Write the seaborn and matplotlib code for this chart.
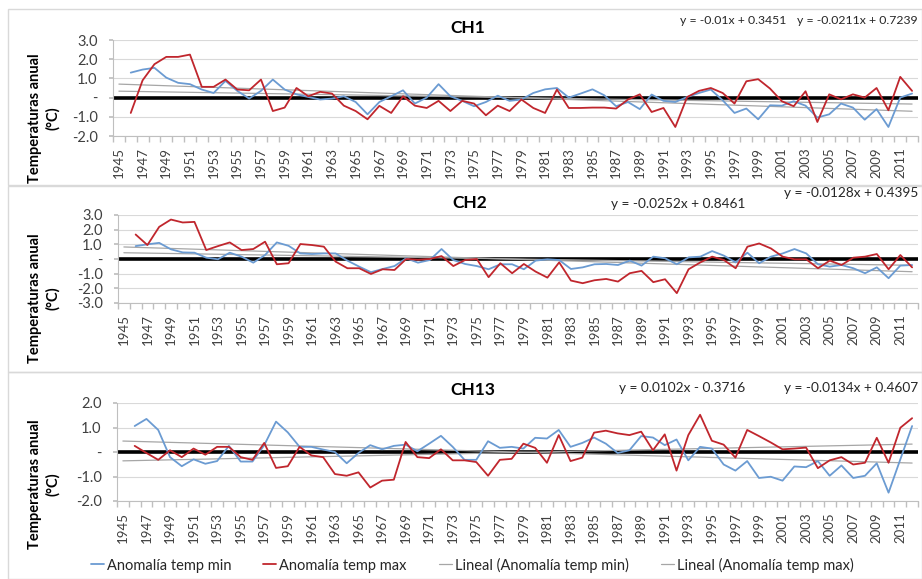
import numpy as np
import pandas as pd
import matplotlib
matplotlib.use("Agg")
import matplotlib.pyplot as plt
import seaborn as sns
from matplotlib.lines import Line2D
from matplotlib.patches import Rectangle
from matplotlib.ticker import FuncFormatter

# years on the category axis (1945 has no data)
years = list(range(1945, 2013))
nan = np.nan

ch1_min = [nan, 1.30, 1.46, 1.55, 1.04, 0.77, 0.70, 0.42, 0.24, 0.87, 0.35,
           -0.05, 0.35, 0.94, 0.42, 0.17, 0.03, -0.10, -0.05, 0.07, -0.23,
           -0.87, -0.23, 0.07, 0.38, -0.31, 0.00, 0.70, 0.07, -0.17, -0.45,
           -0.23, 0.10, -0.17, -0.10, 0.24, 0.43, 0.50, 0.00, 0.21, 0.43,
           0.12, -0.45, -0.23, -0.60, 0.16, -0.17, -0.23, 0.03, 0.24, 0.42,
           -0.14, -0.80, -0.57, -1.13, -0.40, -0.42, -0.19, -0.42, -1.04, -0.87,
           -0.31, -0.52, -1.15, -0.60, -1.53, 0.00, 0.21]
ch1_max = [nan, -0.80, 0.90, 1.74, 2.12, 2.12, 2.24, 0.56, 0.56, 0.94, 0.42,
           0.38, 0.94, -0.70, -0.52, 0.50, 0.07, 0.30, 0.21, -0.42, -0.70,
           -1.13, -0.43, -0.80, 0.07, -0.42, -0.54, -0.17, -0.70, -0.17, -0.31,
           -0.92, -0.42, -0.70, -0.10, -0.54, -0.80, 0.42, -0.54, -0.54, -0.52,
           -0.52, -0.57, -0.10, 0.17, -0.75, -0.54, -1.53, 0.03, 0.35, 0.50,
           0.24, -0.31, 0.85, 0.96, 0.47, -0.19, -0.45, 0.33, -1.27, 0.17,
           -0.09, 0.17, 0.00, 0.50, -0.66, 1.08, 0.35]

ch2_min = [nan, 0.88, 1.00, 1.10, 0.66, 0.45, 0.43, 0.09, -0.02, 0.43, 0.16,
           -0.25, 0.27, 1.13, 0.90, 0.38, 0.34, 0.38, 0.38, -0.11, -0.52,
           -0.90, -0.68, -0.48, 0.05, -0.25, -0.07, 0.68, -0.07, -0.34, -0.48,
           -0.70, -0.36, -0.36, -0.70, -0.11, -0.02, -0.07, -0.68, -0.57, -0.36,
           -0.34, -0.41, -0.11, -0.45, 0.16, 0.05, -0.36, 0.11, 0.16, 0.54,
           0.23, -0.23, 0.43, -0.29, 0.16, 0.38, 0.68, 0.38, -0.36, -0.52,
           -0.41, -0.63, -0.97, -0.57, -1.31, -0.45, -0.41]
ch2_max = [nan, 1.67, 0.95, 2.19, 2.69, 2.49, 2.53, 0.61, 0.88, 1.13, 0.61,
           0.68, 1.18, -0.36, -0.29, 1.02, 0.95, 0.84, -0.18, -0.63, -0.63,
           -1.02, -0.70, -0.75, 0.00, -0.05, 0.00, 0.20, -0.48, -0.07, 0.00,
           -1.24, -0.29, -0.97, -0.34, -0.86, -1.27, -0.23, -1.47, -1.65, -1.45,
           -1.36, -1.54, -0.97, -0.81, -1.58, -1.38, -2.33, -0.70, -0.23, 0.16,
           -0.07, -0.63, 0.84, 1.06, 0.72, 0.16, -0.02, -0.02, -0.63, -0.11,
           -0.41, 0.09, 0.16, 0.34, -0.70, 0.27, -0.57]

ch13_min = [nan, 1.06, 1.35, 0.90, -0.21, -0.58, -0.30, -0.48, -0.37, 0.25, -0.39,
            -0.39, 0.28, 1.24, 0.80, 0.21, 0.21, 0.10, 0.00, -0.46, -0.04,
            0.28, 0.11, 0.25, 0.30, 0.03, 0.34, 0.66, 0.21, -0.32, -0.32,
            0.44, 0.17, 0.21, 0.14, 0.58, 0.55, 0.90, 0.21, 0.37, 0.59,
            0.34, -0.04, 0.07, 0.65, 0.59, 0.28, 0.51, -0.34, 0.21, 0.14,
            -0.51, -0.76, -0.37, -1.06, -1.01, -1.17, -0.59, -0.62, -0.37, -0.97,
            -0.55, -1.06, -0.97, -0.46, -1.66, -0.30, 1.06]
ch13_max = [nan, 0.25, -0.04, -0.32, 0.07, -0.21, 0.14, -0.11, 0.21, 0.21, -0.21,
            -0.32, 0.37, -0.65, -0.58, 0.21, -0.14, -0.21, -0.90, -0.97, -0.83,
            -1.45, -1.17, -1.13, 0.41, -0.21, -0.25, 0.11, -0.34, -0.34, -0.41,
            -0.97, -0.32, -0.28, 0.34, 0.17, -0.44, 0.69, -0.37, -0.23, 0.79,
            0.87, 0.76, 0.69, 0.83, 0.07, 0.72, -0.76, 0.69, 1.52, 0.46,
            0.30, -0.23, 0.90, 0.65, 0.39, 0.11, 0.14, 0.18, -0.66, -0.34,
            -0.21, -0.51, -0.44, 0.58, -0.44, 0.99, 1.38]

# trend line coefficients as printed on the chart (x = 1 at 1945)
trend_min = [(-0.01, 0.3451), (-0.0128, 0.4395), (0.0102, -0.3716)]
trend_max = [(-0.0211, 0.7239), (-0.0252, 0.8461), (-0.0134, 0.4607)]
eq_left = ["y = -0.01x + 0.3451", "y = -0.0252x + 0.8461", "y = 0.0102x - 0.3716"]
eq_right = ["y = -0.0211x + 0.7239", "y = -0.0128x + 0.4395", "y = -0.0134x + 0.4607"]

titles = ["CH1", "CH2", "CH13"]
y_ranges = [(-2, 3), (-3, 3), (-2, 2)]
series_min = [ch1_min, ch2_min, ch13_min]
series_max = [ch1_max, ch2_max, ch13_max]

BLUE = "#6b9bd2"
RED = "#c0262d"
GREY = "#a6a6a6"

sns.set_theme(style="white")
plt.rcParams["font.family"] = ["Lato", "DejaVu Sans"]

W, H = 922, 579
fig = plt.figure(figsize=(W / 100, H / 100), dpi=100)


def fx(x):
    return x / W


def fy(y):
    return 1 - y / H


# plot-area boxes in pixels: left, right, top, bottom
areas = [(113, 918, 40, 136), (118, 918, 215, 303), (117, 918, 403, 501)]
# chart frames: top, bottom
frames = [(9, 185), (186, 372), (372, 579)]
title_pos = [(468, 28), (470, 203), (473, 390)]
eq_pos = [((786, 20), (918, 20)), ((745, 204), (918, 193)), ((745, 388), (918, 388))]
eq_size = [8.8, 9.8, 9.8]
ylab_y = [118, 298, 484]

idx = np.arange(len(years))
xs = idx + 1

for i in range(3):
    l, r, t, b = areas[i]
    ax = fig.add_axes([fx(l), fy(b), fx(r) - fx(l), fy(t) - fy(b)])

    df = pd.DataFrame({
        "idx": np.concatenate([idx, idx]),
        "valor": np.concatenate([series_min[i], series_max[i]]),
        "serie": ["min"] * len(idx) + ["max"] * len(idx),
    }).dropna()

    ax.axhline(0, color="black", lw=2.6, zorder=1)
    for slope, inter in (trend_min[i], trend_max[i]):
        ax.plot(idx, np.polyval([slope, inter], xs), color=GREY, lw=0.9, zorder=2)
    sns.lineplot(data=df, x="idx", y="valor", hue="serie",
                 palette={"min": BLUE, "max": RED}, estimator=None,
                 lw=1.3, legend=False, ax=ax, zorder=3)

    lo, hi = y_ranges[i]
    ax.set_ylim(lo, hi)
    ax.set_xlim(-0.5, len(years) - 0.5)
    ax.set_yticks(np.arange(lo, hi + 1, 1))
    ax.yaxis.set_major_formatter(FuncFormatter(lambda v, p: "-" if abs(v) < 1e-9 else f"{v:.1f}"))
    ax.set_xticks(idx[::2])
    ax.set_xticklabels([str(y) for y in years[::2]], rotation=90)
    ax.set_xticks(np.arange(-0.5, len(years), 1), minor=True)
    ax.tick_params(axis="x", which="major", length=0, pad=8, labelsize=9.5, colors="#404040")
    ax.tick_params(axis="x", which="minor", length=4, color="#bfbfbf", direction="out", bottom=True)
    ax.tick_params(axis="y", length=3, color="#bfbfbf", left=True, pad=8, labelsize=10.5, colors="#404040")
    ax.grid(axis="y", color="#d9d9d9", lw=0.8)
    ax.set_axisbelow(True)
    for side in ("top", "right"):
        ax.spines[side].set_visible(False)
    for side in ("left", "bottom"):
        ax.spines[side].set_color("#bfbfbf")
        ax.spines[side].set_linewidth(0.8)
    ax.set_xlabel("")
    ax.set_ylabel("")

    ft, fb = frames[i]
    fig.add_artist(Rectangle((fx(8), fy(fb)), fx(W) - fx(8), fy(ft) - fy(fb),
                             transform=fig.transFigure, fill=False,
                             edgecolor="#d9d9d9", lw=1))

    tx, ty = title_pos[i]
    fig.text(fx(tx), fy(ty), titles[i], ha="center", va="center",
             fontsize=12.5, fontweight="bold", color="black")
    (ex1, ey1), (ex2, ey2) = eq_pos[i]
    fig.text(fx(ex1), fy(ey1), eq_left[i], ha="right", va="center", fontsize=eq_size[i], color="#262626")
    fig.text(fx(ex2), fy(ey2), eq_right[i], ha="right", va="center", fontsize=eq_size[i], color="#262626")
    fig.text(fx(44), fy(ylab_y[i]), "Temperaturas anual\n(°C)", rotation=90,
             ha="center", va="center", fontsize=10.5, fontweight="bold",
             linespacing=1.3, color="black")

handles = [Line2D([], [], color=BLUE, lw=1.3), Line2D([], [], color=RED, lw=1.3),
           Line2D([], [], color=GREY, lw=0.9), Line2D([], [], color=GREY, lw=0.9)]
labels = ["Anomalía temp min", "Anomalía temp max",
          "Lineal (Anomalía temp min)", "Lineal (Anomalía temp max)"]
fig.legend(handles, labels, loc="center", bbox_to_anchor=(fx(472), fy(565)),
           ncol=4, frameon=False, handlelength=0.9, handletextpad=0.2,
           columnspacing=2.2, fontsize=10.5)

fig.savefig("out.png", dpi=100)
